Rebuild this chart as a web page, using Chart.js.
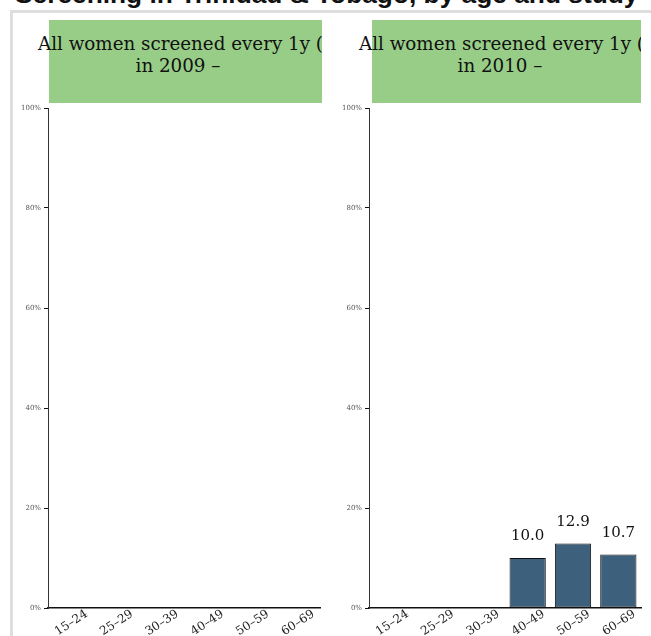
<!DOCTYPE html>
<html>
<head>
<meta charset="utf-8">
<script src="https://cdn.jsdelivr.net/npm/chart.js@4/dist/chart.umd.min.js"></script>
<style>
  html, body { margin: 0; padding: 0; background: #fff; overflow: hidden; }
  body { width: 651px; height: 636px; position: relative; }
  #frame { position: absolute; left: 10px; top: 10px; width: 700px; height: 700px; border: 3px solid #dedede; }
  #title { position: absolute; left: 15px; top: -19px; font: bold 26.3px "Liberation Sans", Arial, sans-serif; line-height: 26px; color: #111; white-space: nowrap; }
  .head { position: absolute; top: 20px; height: 83px; overflow: hidden; }
  .head .green { position: absolute; top: 0; height: 83px; background: #98cd88; }
  .head .l1, .head .l2 { position: absolute; font: 18.3px "DejaVu Serif", serif; line-height: 22px; color: #111; white-space: nowrap; }
  .head .l1 { top: 13px; }
  .head .l2 { top: 35px; transform: translateX(-50%); }
  .box { position: absolute; top: 100px; width: 321px; height: 536px; }
</style>
</head>
<body>
<div id="frame"></div>
<div id="title">Screening in Trinidad &amp; Tobago, by age and study</div>

<div class="head" style="left:0px; width:322px;">
  <div class="green" style="left:49px; width:273px;"></div>
  <div class="l1" style="left:38px;">All women screened every 1y (</div>
  <div class="l2" style="left:178px;" id="h1"></div>
</div>
<div class="head" style="left:322px; width:319px;">
  <div class="green" style="left:50px; width:269px;"></div>
  <div class="l1" style="left:37px;">All women screened every 1y (</div>
  <div class="l2" style="left:178px;" id="h2"></div>
</div>

<div class="box" style="left:0px;"><canvas id="c2009"></canvas></div>
<div class="box" style="left:321px;"><canvas id="c2010"></canvas></div>

<script>
const ageGroups = ['15–24', '25–29', '30–39', '40–49', '50–59', '60–69'];
const years = ['2009', '2010'];
const screened2009 = [null, null, null, null, null, null];
const screened2010 = [null, null, null, 10.0, 12.9, 10.7];
const yTicks = [0, 20, 40, 60, 80, 100];

document.getElementById('h1').textContent = 'in ' + years[0] + ' –';
document.getElementById('h2').textContent = 'in ' + years[1] + ' –';

// valeurs au-dessus des barres
const barLabels = {
    id: 'barLabels',
    afterDatasetsDraw(chart) {
        const ctx = chart.ctx;
        const meta = chart.getDatasetMeta(0);
        const data = chart.data.datasets[0].data;
        ctx.save();
        ctx.font = '15px "DejaVu Serif", serif';
        ctx.fillStyle = '#111';
        ctx.textAlign = 'center';
        ctx.textBaseline = 'alphabetic';
        meta.data.forEach((bar, i) => {
            if (data[i] == null) return;
            ctx.fillText(data[i].toFixed(1), bar.x, bar.y - 18);
        });
        ctx.restore();
    }
};

function makeChart(id, values) {
    const ctx = document.getElementById(id).getContext('2d');
    return new Chart(ctx, {
        type: 'bar',
        data: {
            labels: ageGroups,
            datasets: [{
                data: values,
                backgroundColor: '#3d617c',
                borderColor: '#111',
                borderWidth: 1,
                borderSkipped: false,
                categoryPercentage: 1,
                barPercentage: 0.8
            }]
        },
        options: {
            responsive: true,
            maintainAspectRatio: false,
            animation: false,
            layout: { padding: { top: 8, right: 1, bottom: 0, left: 0 } },
            plugins: { legend: { display: false }, tooltip: { enabled: false } },
            scales: {
                x: {
                    grid: { display: false },
                    border: { display: true, color: '#111', width: 1.5 },
                    ticks: {
                        autoSkip: false,
                        minRotation: 33,
                        maxRotation: 33,
                        padding: -9,
                        labelOffset: 16,
                        color: '#222',
                        font: { family: '"DejaVu Serif", serif', size: 12 }
                    },
                    afterFit: s => { s.height = 28; }
                },
                y: {
                    min: 0,
                    max: 100,
                    afterBuildTicks: s => { s.ticks = yTicks.map(v => ({ value: v })); },
                    grid: { display: true, drawOnChartArea: false, drawTicks: true, tickLength: 4, color: '#111' },
                    border: { display: true, color: '#333', width: 1 },
                    ticks: {
                        padding: 3,
                        color: '#555',
                        font: { family: '"DejaVu Serif", serif', size: 7 },
                        callback: v => v + '%'
                    },
                    afterFit: s => { s.width = 48; }
                }
            }
        },
        plugins: [barLabels]
    });
}

makeChart('c2009', screened2009);
makeChart('c2010', screened2010);
</script>
</body>
</html>
